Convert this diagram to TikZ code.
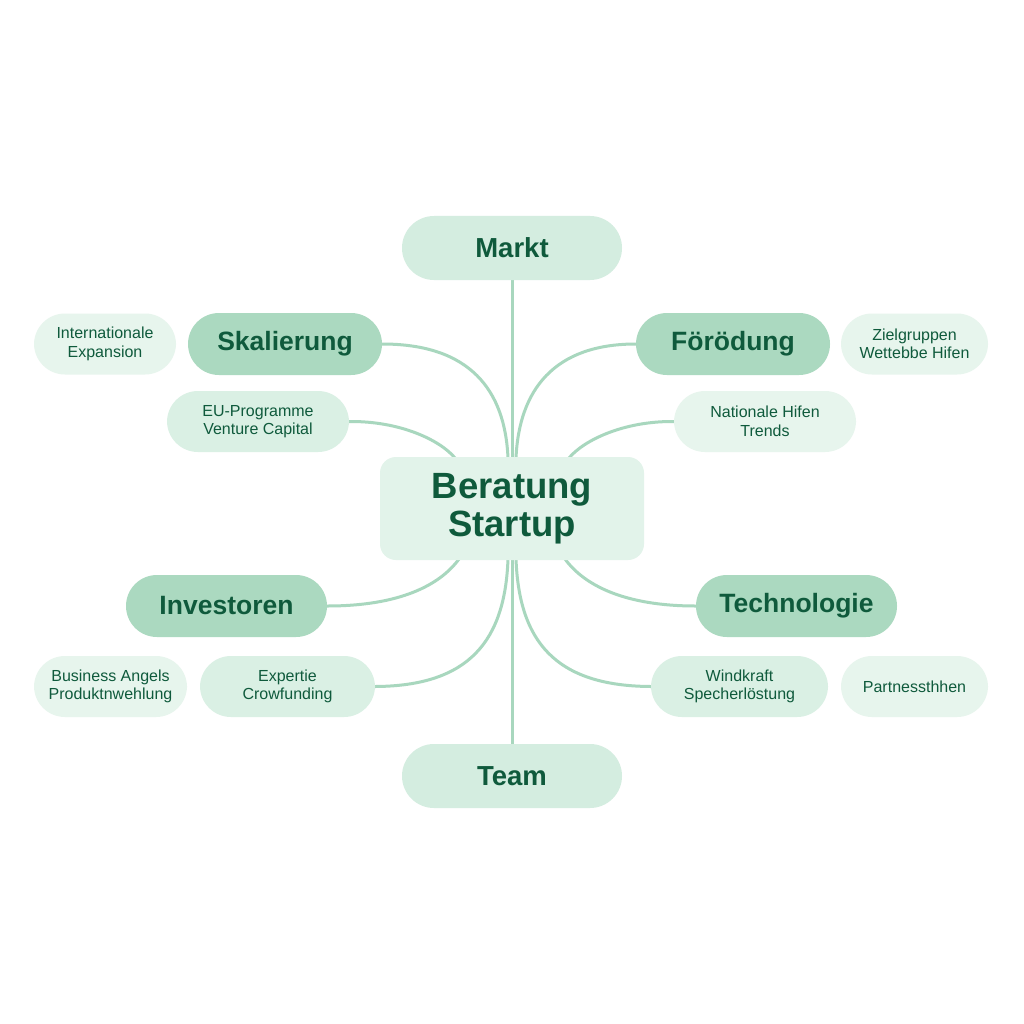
\documentclass[tikz,border=0pt]{standalone}
\usepackage{fontspec}
\setmainfont{Liberation Sans}
\usetikzlibrary{backgrounds}
\definecolor{txt}{HTML}{0F5A3C}
\definecolor{edge}{HTML}{A8D7BE}
\definecolor{fmain}{HTML}{D4EDE0}
\definecolor{fcenter}{HTML}{E2F3EA}
\definecolor{fdark}{HTML}{ABD9C0}
\definecolor{fmid}{HTML}{DAF0E4}
\definecolor{flight}{HTML}{E7F5ED}
\tikzset{
  pill/.style={draw=none, rounded corners=31pt, inner sep=0pt, text=txt, align=center},
  mainbox/.style={pill, fill=fmain, minimum width=220pt, minimum height=64pt, rounded corners=32pt, font=\bfseries\fontsize{27.5}{32}\selectfont},
  catbox/.style={pill, fill=fdark, minimum width=194pt, minimum height=62pt, font=\bfseries\fontsize{26.5}{31}\selectfont},
  leafmid/.style={pill, fill=fmid, minimum height=61pt, font=\fontsize{16}{18.5}\selectfont},
  leaflight/.style={pill, fill=flight, minimum height=61pt, font=\fontsize{16}{18.5}\selectfont},
  centerbox/.style={draw=none, fill=fcenter, rounded corners=16pt, minimum width=264pt, minimum height=103pt, inner sep=0pt, text=txt, align=center, font=\bfseries\fontsize{36.5}{38}\selectfont},
  link/.style={draw=edge, line width=3pt, line cap=round},
}
\begin{document}
\begin{tikzpicture}[x=1pt,y=-1pt]
\node[mainbox] (markt) at (512,248) {Markt};
\node[mainbox] (team) at (512,776) {Team};
\node[catbox] (sk) at (285,344) {Skalierung};
\node[catbox] (fo) at (733,344) {Förödung};
\node[catbox, minimum width=201pt] (inv) at (226.5,606) {Investoren};
\node[catbox, minimum width=201pt] (tech) at (796.5,606) {Technologie};
\node[leaflight, minimum width=142pt] (intl) at (105,344) {Internationale\\Expansion};
\node[leafmid, minimum width=182pt] (eu) at (258,421.5) {EU-Programme\\Venture Capital};
\node[leaflight, minimum width=147pt] (ziel) at (914.5,344) {Zielgruppen\\Wettebbe Hifen};
\node[leaflight, minimum width=182pt] (nat) at (765,421.5) {Nationale Hifen\\Trends};
\node[leaflight, minimum width=153pt] (ba) at (110.5,686.5) {Business Angels\\Produktnwehlung};
\node[leafmid, minimum width=175pt] (exp) at (287.5,686.5) {Expertie\\Crowfunding};
\node[leafmid, minimum width=177pt] (wind) at (739.5,686.5) {Windkraft\\Specherlöstung};
\node[leaflight, minimum width=147pt] (part) at (914.5,686.5) {Partnessthhen};
\node[centerbox] (c) at (512,508.5) {Beratung\\Startup};
% connection points on center
\coordinate (t1) at (508,458);
\coordinate (t2) at (516,458);
\coordinate (t3) at (455,458);
\coordinate (t4) at (569,458);
\coordinate (b1) at (508,559);
\coordinate (b2) at (516,559);
\coordinate (b3) at (459,559);
\coordinate (b4) at (565,559);
\begin{scope}[on background layer]
\fill[white] (0,0) rectangle (1024,1024);
\draw[link] (markt.south) -- (c.north);
\draw[link] (team.north) -- (c.south);
\draw[link] (sk.east) .. controls (470,344) and (505,390) .. (t1);
\draw[link] (fo.west) .. controls (554,344) and (519,390) .. (t2);
\draw[link] (eu.east) .. controls (400,421) and (440,440) .. (t3);
\draw[link] (nat.west) .. controls (624,421) and (584,440) .. (t4);
\draw[link] (inv.east) .. controls (400,606) and (440,585) .. (b3);
\draw[link] (tech.west) .. controls (624,606) and (584,585) .. (b4);
\draw[link] (exp.east) .. controls (470,686) and (505,640) .. (b1);
\draw[link] (wind.west) .. controls (554,686) and (519,640) .. (b2);
\end{scope}
\end{tikzpicture}
\end{document}
